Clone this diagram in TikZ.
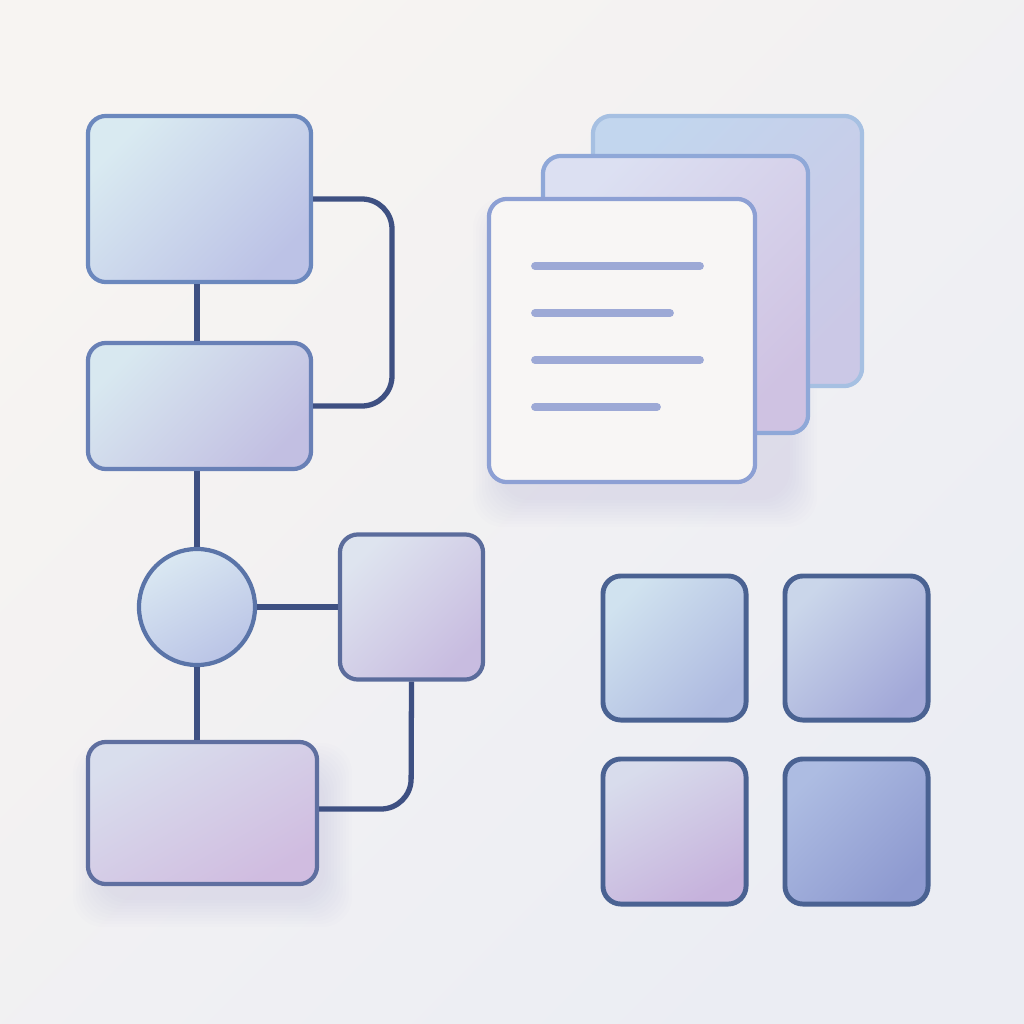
\documentclass[tikz,border=0pt]{standalone}
\begin{document}
\begin{tikzpicture}[x=0.01cm,y=-0.01cm,
  box/.style={draw, line width=1.2pt, rounded corners=0.18cm, inner sep=0pt},
  link/.style={draw=linkc, line width=1.5pt, rounded corners=0.3cm},
  txtline/.style={draw=lineblue, line width=2.2pt, line cap=round},
  shadowpiece/.style={fill=shadc, opacity=0.012, rounded corners=0.3cm}]
\definecolor{bgA}{HTML}{F7F4F2}
\definecolor{bgB}{HTML}{EBEDF3}
\definecolor{shadc}{HTML}{8A6FA8}
\definecolor{linkc}{HTML}{3E5082}
\definecolor{lineblue}{HTML}{9DA9D6}
\definecolor{aTL}{HTML}{D9EAF1}\definecolor{aBR}{HTML}{BCC2E6}\definecolor{aBd}{HTML}{6B88BE}
\definecolor{bTL}{HTML}{D8E8F0}\definecolor{bBR}{HTML}{C2BFE2}\definecolor{bBd}{HTML}{6880B6}
\definecolor{cirTL}{HTML}{DAE8F2}\definecolor{cirBR}{HTML}{BAC4E6}\definecolor{cirBd}{HTML}{5A74A8}
\definecolor{cTL}{HTML}{DEE4EF}\definecolor{cBR}{HTML}{C8BCE0}\definecolor{cBd}{HTML}{5B6C9C}
\definecolor{dTL}{HTML}{D9DEED}\definecolor{dBR}{HTML}{D0BCE0}\definecolor{dBd}{HTML}{5F6FA0}
\definecolor{g1TL}{HTML}{D0E2EF}\definecolor{g1BR}{HTML}{AEBAE0}
\definecolor{g2TL}{HTML}{CAD6EA}\definecolor{g2BR}{HTML}{A2A8D8}
\definecolor{g3TL}{HTML}{D8DCEC}\definecolor{g3BR}{HTML}{C6B2DC}
\definecolor{g4TL}{HTML}{ADBCE2}\definecolor{g4BR}{HTML}{8E9AD0}
\definecolor{gBd}{HTML}{4A6292}
\definecolor{k1TL}{HTML}{C2D6EE}\definecolor{k1BR}{HTML}{CBC8E6}\definecolor{k1Bd}{HTML}{A6C0E2}
\definecolor{k2TL}{HTML}{DCE0F2}\definecolor{k2BR}{HTML}{CFC2E2}\definecolor{k2Bd}{HTML}{8FA8D8}
\definecolor{k3F}{HTML}{F8F6F5}\definecolor{k3Bd}{HTML}{8DA0D4}
% background
\useasboundingbox (0,0) rectangle (1024,1024);
\shade[top color=bgA, bottom color=bgB, shading angle=45] (0,0) rectangle (1024,1024);

% soft shadows
\foreach \i in {0,...,9} {
  \fill[shadowpiece] (500-3*\i,225-3*\i) rectangle (790+3*\i,500+3*\i);
  \fill[shadowpiece] (100-3*\i,770-3*\i) rectangle (325+3*\i,900+3*\i);
}

\coordinate (p1) at (392,199);
\coordinate (p2) at (392,406);
\coordinate (p3) at (411,809);

% flowchart nodes
\node[box, draw=aBd, top color=aTL, bottom color=aBR, shading angle=45,
      minimum width=2.23cm, minimum height=1.66cm] (A) at (199.5,199) {};
\node[box, draw=bBd, top color=bTL, bottom color=bBR, shading angle=45,
      minimum width=2.23cm, minimum height=1.26cm] (B) at (199.5,406) {};
\node[circle, draw=cirBd, line width=1.2pt, inner sep=0pt, top color=cirTL, bottom color=cirBR, shading angle=30,
      minimum size=1.16cm] (O) at (197,607) {};
\node[box, draw=cBd, top color=cTL, bottom color=cBR, shading angle=45,
      minimum width=1.43cm, minimum height=1.45cm] (C) at (411.5,607) {};
\node[box, draw=dBd, top color=dTL, bottom color=dBR, shading angle=30,
      minimum width=2.29cm, minimum height=1.42cm] (D) at (202.5,813) {};

\draw[link] (A.south -| 197,0) -- (B.north -| 197,0);
\draw[link] (A.east) -- (p1) -- (p2) -- (B.east);
\draw[link] (B.south -| O.north) -- (O.north);
\draw[link] (O.east) -- (C.west);
\draw[link] (O.south) -- (D.north -| O.south);
\draw[link] (C.south) -- (p3) -- (D.east |- p3);

% document stack
\node[box, draw=k1Bd, top color=k1TL, bottom color=k1BR, shading angle=45,
      minimum width=2.69cm, minimum height=2.70cm] (K1) at (727.5,251) {};
\node[box, draw=k2Bd, top color=k2TL, bottom color=k2BR, shading angle=45,
      minimum width=2.65cm, minimum height=2.77cm] (K2) at (675.5,294.5) {};
\node[box, draw=k3Bd, fill=k3F,
      minimum width=2.66cm, minimum height=2.83cm] (K3) at (622,340.5) {};
\coordinate (l1a) at (535,266); \coordinate (l1b) at (700,266);
\coordinate (l2a) at (535,313); \coordinate (l2b) at (670,313);
\coordinate (l3a) at (535,360); \coordinate (l3b) at (700,360);
\coordinate (l4a) at (535,407); \coordinate (l4b) at (657,407);
\draw[txtline] (l1a) -- (l1b);
\draw[txtline] (l2a) -- (l2b);
\draw[txtline] (l3a) -- (l3b);
\draw[txtline] (l4a) -- (l4b);

% grid of squares
\node[box, draw=gBd, line width=1.4pt, top color=g1TL, bottom color=g1BR, shading angle=45,
      minimum width=1.43cm, minimum height=1.44cm] (G1) at (674.5,648) {};
\node[box, draw=gBd, line width=1.4pt, top color=g2TL, bottom color=g2BR, shading angle=45,
      minimum width=1.43cm, minimum height=1.44cm] (G2) at (856.5,648) {};
\node[box, draw=gBd, line width=1.4pt, top color=g3TL, bottom color=g3BR, shading angle=30,
      minimum width=1.43cm, minimum height=1.45cm] (G3) at (674.5,831.5) {};
\node[box, draw=gBd, line width=1.4pt, top color=g4TL, bottom color=g4BR, shading angle=45,
      minimum width=1.43cm, minimum height=1.45cm] (G4) at (856.5,831.5) {};
\end{tikzpicture}
\end{document}
